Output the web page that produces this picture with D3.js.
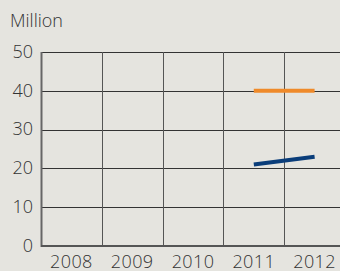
<!DOCTYPE html>
<html>
<head>
<meta charset="utf-8">
<script src="https://cdn.jsdelivr.net/npm/d3@7"></script>
<style>
  html, body { margin: 0; padding: 0; background: #e5e4df; }
  svg { display: block; }
</style>
</head>
<body>
<script>
const years = ["2008", "2009", "2010", "2011", "2012"];
const yTicks = [0, 10, 20, 30, 40, 50];
const orangeSeries = [{year: "2011", value: 40}, {year: "2012", value: 40}];
const blueSeries = [{year: "2011", value: 21}, {year: "2012", value: 23}];

const width = 340, height = 271;
const margin = {top: 52, right: -5, bottom: 25, left: 41};

const svg = d3.select("body").append("svg")
    .attr("width", width)
    .attr("height", height)
    .style("font-family", "'Open Sans', sans-serif")
    .style("font-weight", 300);

svg.append("rect")
    .attr("width", width)
    .attr("height", height)
    .attr("fill", "#e5e4df");

const x = d3.scaleBand()
    .domain(years)
    .range([margin.left, width - margin.right]);

const y = d3.scaleLinear()
    .domain([0, 50])
    .range([height - margin.bottom, margin.top]);

// horizontal grid
svg.append("g")
  .selectAll("line")
  .data(yTicks.slice(1))
  .join("line")
    .attr("x1", margin.left)
    .attr("x2", width)
    .attr("y1", d => Math.round(y(d)) + 0.5)
    .attr("y2", d => Math.round(y(d)) + 0.5)
    .attr("stroke", "#333")
    .attr("stroke-width", 1);

// vertical grid (band edges)
svg.append("g")
  .selectAll("line")
  .data(years.slice(1))
  .join("line")
    .attr("x1", d => Math.round(x(d)) + 0.5)
    .attr("x2", d => Math.round(x(d)) + 0.5)
    .attr("y1", margin.top)
    .attr("y2", y(0))
    .attr("stroke", "#555")
    .attr("stroke-width", 1);

// axes
svg.append("line")
    .attr("x1", margin.left + 0.5).attr("x2", margin.left + 0.5)
    .attr("y1", margin.top).attr("y2", y(0) + 1)
    .attr("stroke", "#666").attr("stroke-width", 2);
svg.append("line")
    .attr("x1", margin.left).attr("x2", width)
    .attr("y1", y(0)).attr("y2", y(0))
    .attr("stroke", "#555").attr("stroke-width", 2);

// y labels
svg.append("g")
  .selectAll("text")
  .data(yTicks)
  .join("text")
    .attr("x", 33)
    .attr("y", d => y(d))
    .attr("dy", "0.32em")
    .attr("text-anchor", "end")
    .attr("font-size", 18)
    .attr("fill", "#333")
    .text(d => d);

// x labels
svg.append("g")
  .selectAll("text")
  .data(years)
  .join("text")
    .attr("x", d => x(d) + x.bandwidth() / 2)
    .attr("y", 268)
    .attr("text-anchor", "middle")
    .attr("font-size", 18)
    .attr("letter-spacing", 0.4)
    .attr("fill", "#333")
    .text(d => d);

svg.append("text")
    .attr("x", 10)
    .attr("y", 27)
    .attr("font-size", 18)
    .attr("fill", "#333")
    .text("Million");

const line = d3.line()
    .x(d => x(d.year) + x.bandwidth() / 2)
    .y(d => y(d.value));

svg.append("path")
    .datum(orangeSeries)
    .attr("d", line)
    .attr("fill", "none")
    .attr("stroke", "#ef8a2a")
    .attr("stroke-width", 4);

svg.append("path")
    .datum(blueSeries)
    .attr("d", line)
    .attr("fill", "none")
    .attr("stroke", "#0a3d7a")
    .attr("stroke-width", 4);
</script>
</body>
</html>
